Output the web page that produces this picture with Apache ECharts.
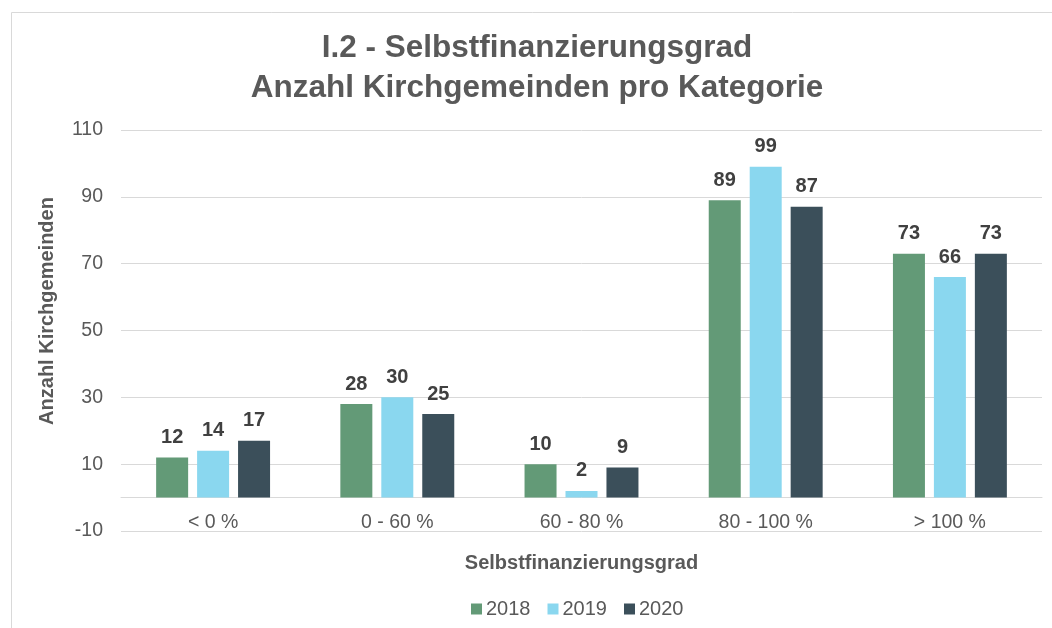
<!DOCTYPE html>
<html><head><meta charset="utf-8">
<script src="https://cdn.jsdelivr.net/npm/echarts@6/dist/echarts.min.js"></script>
<style>html,body{margin:0;padding:0;background:#fff}#c{width:1052px;height:628px}</style>
</head><body><div id="c"></div>
<script>
const categories = ['< 0 %', '0 - 60 %', '60 - 80 %', '80 - 100 %', '> 100 %'];
const seriesNames = ['2018', '2019', '2020'];
const values2018 = [12, 28, 10, 89, 73];
const values2019 = [14, 30, 2, 99, 66];
const values2020 = [17, 25, 9, 87, 73];
const colors = ['#639A77', '#8AD7EF', '#3B4F5A'];
const yAxisName = 'Anzahl Kirchgemeinden';
const xAxisName = 'Selbstfinanzierungsgrad';
const FONT = '"Liberation Sans", Arial, sans-serif';

const chart = echarts.init(document.getElementById('c'), null, {renderer: 'canvas'});
const mk = (name, data, color) => ({
  name, type: 'bar', data, barWidth: 32, barGap: '28%',
  itemStyle: {color},
  label: {show: true, position: 'top', distance: 10, fontFamily: FONT, fontWeight: 'bold', fontSize: 20, color: '#404040'}
});
chart.setOption({
  animation: false,
  textStyle: {fontFamily: FONT},
  graphic: [
    {type: 'rect', shape: {x: 11.5, y: 12.5, width: 1100, height: 700}, style: {fill: null, stroke: '#d9d9d9', lineWidth: 1}, silent: true},
    {type: 'text', x: 47, y: 311, rotation: Math.PI / 2, silent: true,
     style: {text: yAxisName, fontFamily: FONT, fontWeight: 'bold', fontSize: 20, fill: '#595959', align: 'center', verticalAlign: 'middle'}}
  ],
  title: {
    text: 'I.2 - Selbstfinanzierungsgrad\nAnzahl Kirchgemeinden pro Kategorie',
    left: 532, top: 23, textAlign: 'center',
    textStyle: {fontFamily: FONT, fontWeight: 'bold', fontSize: 31.5, color: '#595959', lineHeight: 40}
  },
  legend: {
    top: 594, left: 466, itemWidth: 11, itemHeight: 11, itemGap: 17,
    icon: 'rect',
    textStyle: {fontFamily: FONT, fontSize: 20, color: '#595959', padding: [0, 0, 0, -1]},
    data: seriesNames
  },
  grid: {left: 121, right: 10, top: 130, bottom: 97, containLabel: false},
  xAxis: {
    type: 'category', data: categories,
    name: xAxisName, nameLocation: 'middle', nameGap: 22,
    nameTextStyle: {fontFamily: FONT, fontWeight: 'bold', fontSize: 20, color: '#595959'},
    axisLine: {onZero: true, lineStyle: {color: '#d9d9d9', width: 1}},
    axisTick: {show: false},
    axisLabel: {fontFamily: FONT, fontSize: 19.5, color: '#595959', margin: -18}
  },
  yAxis: {
    type: 'value', min: -10, max: 110, interval: 20,
    axisLine: {show: false}, axisTick: {show: false},
    axisLabel: {fontFamily: FONT, fontSize: 19.5, color: '#595959', margin: 18},
    splitLine: {lineStyle: {color: '#d9d9d9', width: 1}}
  },
  series: [mk(seriesNames[0], values2018, colors[0]), mk(seriesNames[1], values2019, colors[1]), mk(seriesNames[2], values2020, colors[2])]
});
</script></body></html>
